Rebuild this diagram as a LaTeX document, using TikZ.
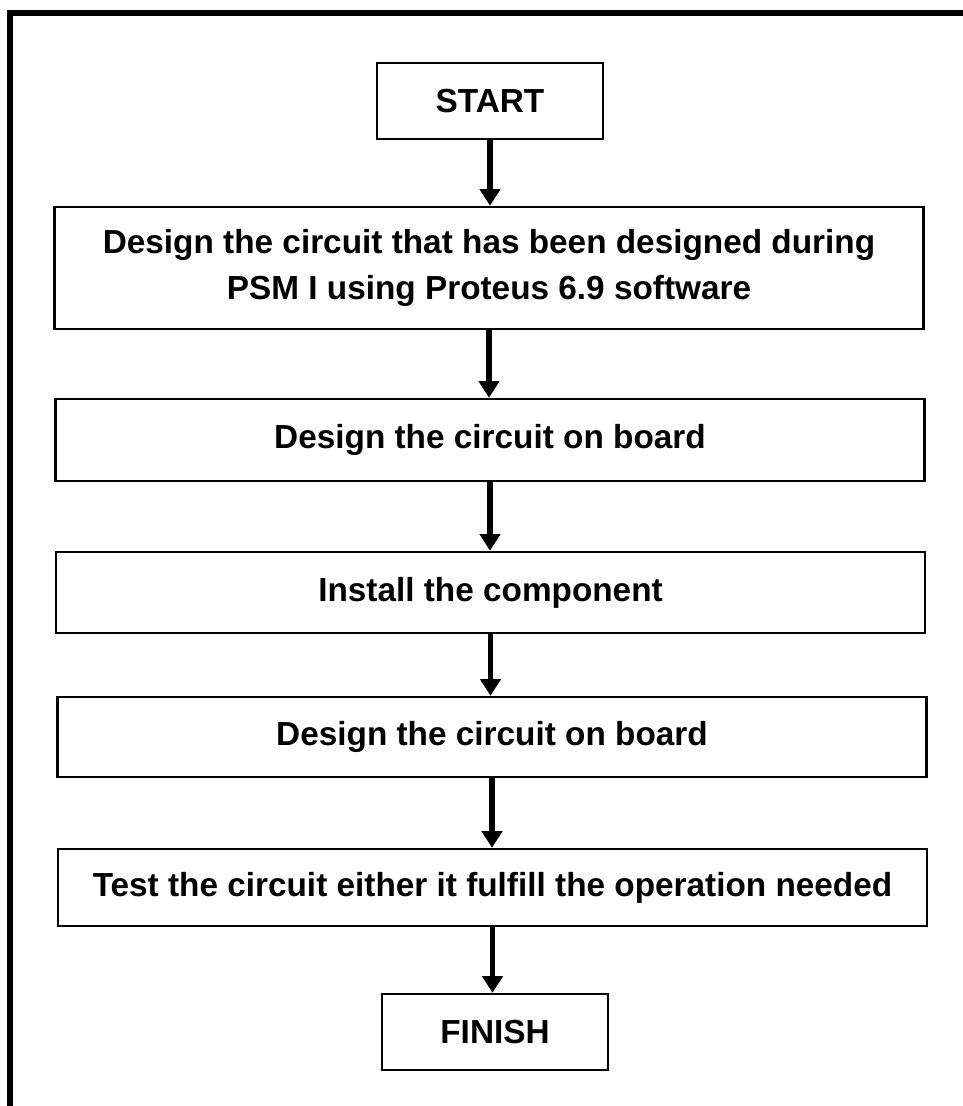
\documentclass[tikz,border=0pt]{standalone}
\usepackage{fontspec}
\setmainfont{Liberation Sans}
\usetikzlibrary{arrows.meta}

\begin{document}
\begin{tikzpicture}[x=0.75pt, y=-0.75pt,
    stepbox/.style={draw, line width=1.8pt, minimum width=652pt, inner sep=0pt, align=center,
        font=\fontsize{25}{35}\selectfont\bfseries},
    endbox/.style={stepbox, minimum width=169.5pt, minimum height=57pt},
    flow/.style={line width=3.8pt, -{Triangle[length=12.5pt, width=15pt]}}]
    \clip (0,0) rectangle (963,1106);

    % Page frame
    \draw[line width=4pt] (10,1120) -- (10,13) -- (980,13);

    % Steps
    \node[endbox] (start) at (490,101) {START};
    \node[stepbox, minimum height=91.5pt] (simulate) at (489,268)
        {Design the circuit that has been designed during\\PSM I using Proteus 6.9 software};
    \node[stepbox, minimum height=61.5pt] (board) at (490,440) {Design the circuit on board};
    \node[stepbox, minimum height=60.75pt] (install) at (490.5,592.5) {Install the component};
    \node[stepbox, minimum height=60pt] (boardtwo) at (492,737) {Design the circuit on board};
    \node[stepbox, minimum height=57.75pt] (test) at (492.5,887.5)
        {Test the circuit either it fulfill the operation needed};
    \node[endbox] (finish) at (495,1032) {FINISH};

    % Arrows
    \draw[flow] (start.south) -- (start.south |- simulate.north);
    \draw[flow] (simulate.south) -- (simulate.south |- board.north);
    \draw[flow] (board.south) -- (board.south |- install.north);
    \draw[flow] (install.south) -- (install.south |- boardtwo.north);
    \draw[flow] (boardtwo.south) -- (boardtwo.south |- test.north);
    \draw[flow] (test.south) -- (test.south |- finish.north);
\end{tikzpicture}
\end{document}
